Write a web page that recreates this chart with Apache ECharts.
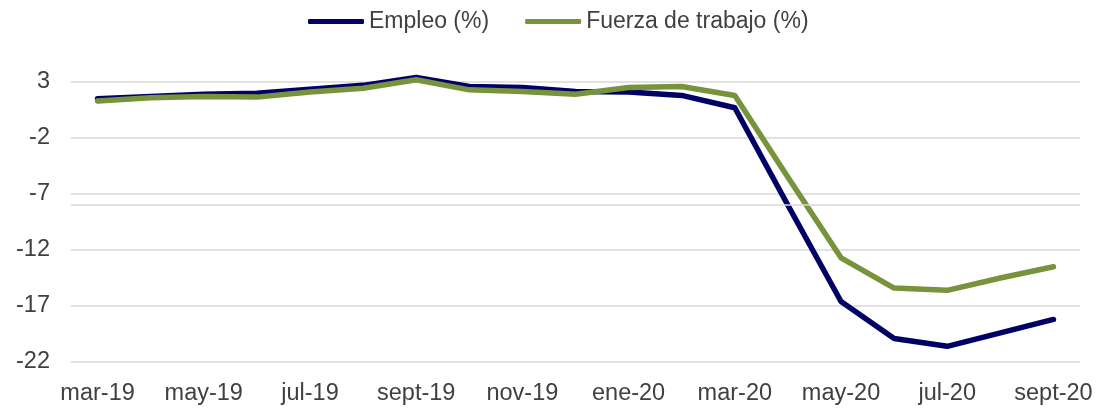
<!DOCTYPE html>
<html>
<head>
<meta charset="utf-8">
<script src="https://cdn.jsdelivr.net/npm/echarts@6/dist/echarts.min.js"></script>
<style>
  html, body { margin: 0; padding: 0; background: #fff; }
  #chart { width: 1097px; height: 409px; }
</style>
</head>
<body>
<div id="chart"></div>
<script>
// meses (mar-19 .. sept-20)
var months = ['mar-19', 'abr-19', 'may-19', 'jun-19', 'jul-19', 'ago-19', 'sept-19', 'oct-19', 'nov-19', 'dic-19',
  'ene-20', 'feb-20', 'mar-20', 'abr-20', 'may-20', 'jun-20', 'jul-20', 'ago-20', 'sept-20'];

var empleo = [1.5, 1.7, 1.9, 2.0, 2.35, 2.7, 3.4, 2.6, 2.5, 2.15, 2.1, 1.8, 0.7, -8.0, -16.6, -19.9, -20.6, -19.4, -18.2];
var fuerza = [1.3, 1.6, 1.7, 1.65, 2.1, 2.45, 3.2, 2.3, 2.15, 1.9, 2.5, 2.6, 1.8, -5.5, -12.7, -15.4, -15.6, -14.5, -13.5];

var seriesNames = ['Empleo (%)', 'Fuerza de trabajo (%)'];
var yMin = -22, yMax = 3, yStep = 5;
var extraLine = -7.95; // línea gris adicional que aparece en el original

var chart = echarts.init(document.getElementById('chart'));
var textColor = '#404040';
var gridColor = '#d9d9d9';

var option = {
  animation: false,
  legend: {
    data: seriesNames,
    top: 5,
    left: 303,
    itemWidth: 56,
    itemHeight: 5,
    itemGap: 36,
    textStyle: { fontFamily: 'Liberation Sans', fontSize: 23, color: textColor },
    icon: 'roundRect'
  },
  grid: { left: 71, right: 17, top: 82, bottom: 47 },
  xAxis: {
    type: 'category',
    data: months,
    boundaryGap: true,
    axisLine: { show: false },
    axisTick: { show: false },
    axisLabel: {
      interval: 1,
      margin: 20,
      fontFamily: 'Liberation Sans',
      fontSize: 23.5,
      color: textColor
    }
  },
  yAxis: {
    type: 'value',
    min: yMin,
    max: yMax,
    interval: yStep,
    axisLine: { show: false },
    axisTick: { show: false },
    axisLabel: { margin: 21, fontFamily: 'Liberation Sans', fontSize: 23.5, color: textColor },
    splitLine: { lineStyle: { color: gridColor, width: 1.5 } }
  },
  series: [
    {
      name: 'ref',
      type: 'line',
      data: [],
      silent: true,
      markLine: {
        silent: true,
        symbol: 'none',
        label: { show: false },
        lineStyle: { color: gridColor, width: 1.5, type: 'solid' },
        data: [{ yAxis: extraLine }]
      }
    },
    {
      name: seriesNames[0],
      type: 'line',
      data: empleo,
      symbol: 'none',
      clip: false,
      color: '#000066',
      lineStyle: { width: 5.5, color: '#000066', cap: 'round', join: 'round' }
    },
    {
      name: seriesNames[1],
      type: 'line',
      data: fuerza,
      symbol: 'none',
      clip: false,
      color: '#77933c',
      lineStyle: { width: 5.5, color: '#77933c', cap: 'round', join: 'round' }
    }
  ]
};

chart.setOption(option);
</script>
</body>
</html>
